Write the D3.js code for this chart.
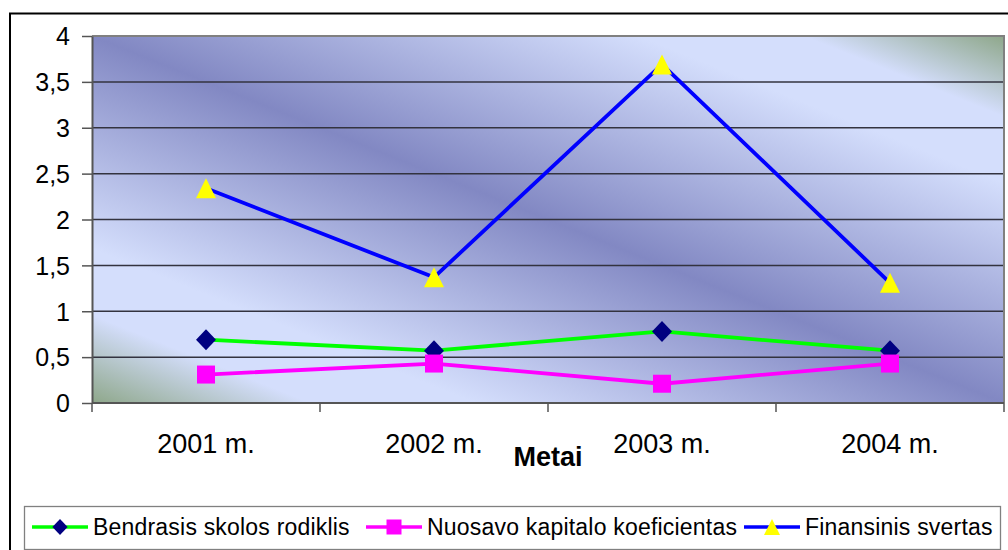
<!DOCTYPE html>
<html>
<head>
<meta charset="utf-8">
<script src="https://cdn.jsdelivr.net/npm/d3@7"></script>
<style>
  html, body { margin: 0; padding: 0; background: #fff; }
  svg { display: block; font-family: "Liberation Sans", Arial, Helvetica, sans-serif; }
</style>
</head>
<body>
<svg id="chart" width="1008" height="550"></svg>
<script>
// Years on the category axis
const years = ["2001 m.", "2002 m.", "2003 m.", "2004 m."];
// Ratio series
const bendrasis = [0.69, 0.57, 0.78, 0.57];   // Bendrasis skolos rodiklis
const nuosavo = [0.31, 0.43, 0.21, 0.43];     // Nuosavo kapitalo koeficientas
const finansinis = [2.34, 1.37, 3.69, 1.31];  // Finansinis svertas
// Value axis ticks and their labels (decimal comma)
const yTicks = [0, 0.5, 1, 1.5, 2, 2.5, 3, 3.5, 4];
const yTickLabels = ["0", "0,5", "1", "1,5", "2", "2,5", "3", "3,5", "4"];
const seriesNames = ["Bendrasis skolos rodiklis", "Nuosavo kapitalo koeficientas", "Finansinis svertas"];

const series = [
  { name: seriesNames[0], values: bendrasis, line: "#00ff00", marker: "diamond", fill: "#000080" },
  { name: seriesNames[1], values: nuosavo, line: "#ff00ff", marker: "square", fill: "#ff00ff" },
  { name: seriesNames[2], values: finansinis, line: "#0000ff", marker: "triangle", fill: "#ffff00" }
];

const svg = d3.select("#chart");
const plot = { left: 92, top: 36, right: 1004, bottom: 403 };

const x = d3.scaleBand().domain(years).range([plot.left, plot.right]).padding(0);
const y = d3.scaleLinear().domain([0, 4]).range([plot.bottom, plot.top]);

// Outer chart frame
svg.append("rect")
  .attr("x", 10).attr("y", 13.5).attr("width", 1100).attr("height", 600)
  .attr("fill", "#fff").attr("stroke", "#000").attr("stroke-width", 2);

// Diagonal gradient fill of the plot area
const defs = svg.append("defs");
const grad = defs.append("linearGradient")
  .attr("id", "plotFill")
  .attr("x1", 0).attr("y1", 1).attr("x2", 1).attr("y2", 0);
[
  [0, "#8ea78a"], [0.12, "#d4defc"], [0.21, "#d4defc"], [0.5, "#8288c3"],
  [0.8, "#d4defc"], [0.89, "#d4defc"], [1, "#8ea78a"]
].forEach(([o, c]) => grad.append("stop").attr("offset", o).attr("stop-color", c));

svg.append("rect")
  .attr("x", plot.left).attr("y", plot.top)
  .attr("width", plot.right - plot.left).attr("height", plot.bottom - plot.top)
  .attr("fill", "url(#plotFill)");

// Horizontal gridlines
svg.append("g")
  .selectAll("line")
  .data(yTicks.filter(v => v > 0 && v < 4))
  .join("line")
  .attr("x1", plot.left).attr("x2", plot.right)
  .attr("y1", d => y(d)).attr("y2", d => y(d))
  .attr("stroke", "#33333f").attr("stroke-width", 1.5);

// Plot border (top and right)
svg.append("path")
  .attr("d", `M${plot.left},${plot.top}H${plot.right}V${plot.bottom}`)
  .attr("fill", "none").attr("stroke", "#808080").attr("stroke-width", 2);

// Value axis
const yAxis = d3.axisLeft(y)
  .tickValues(yTicks)
  .tickFormat((d, i) => yTickLabels[i])
  .tickSizeInner(10).tickSizeOuter(0).tickPadding(12);
const gy = svg.append("g").attr("transform", `translate(${plot.left},0)`).call(yAxis);
gy.select(".domain").attr("stroke", "#555").attr("stroke-width", 2);
gy.selectAll(".tick line").attr("stroke", "#555").attr("stroke-width", 1.5);
gy.selectAll(".tick text")
  .attr("font-size", 25).attr("fill", "#000")
  .attr("font-family", "'Liberation Sans', Arial, sans-serif")
  .attr("dy", "0.35em");

// Category axis: ticks sit on band boundaries
const gx = svg.append("g").attr("transform", `translate(0,${plot.bottom})`);
gx.append("line")
  .attr("x1", plot.left).attr("x2", plot.right)
  .attr("stroke", "#555").attr("stroke-width", 2);
const boundaries = years.map(d => x(d)).concat([x(years[years.length - 1]) + x.bandwidth()]);
gx.selectAll("line.tick")
  .data(boundaries)
  .join("line")
  .attr("class", "tick")
  .attr("x1", d => d).attr("x2", d => d)
  .attr("y1", 0).attr("y2", 9)
  .attr("stroke", "#555").attr("stroke-width", 1.5);
gx.selectAll("text")
  .data(years)
  .join("text")
  .attr("x", d => x(d) + x.bandwidth() / 2)
  .attr("y", 50)
  .attr("text-anchor", "middle")
  .attr("font-size", 27)
  .attr("fill", "#000")
  .text(d => d);

// Axis title
svg.append("text")
  .attr("x", 548).attr("y", 466)
  .attr("text-anchor", "middle")
  .attr("font-size", 27).attr("font-weight", "bold")
  .attr("fill", "#000")
  .text("Metai");

// Marker shapes
function markerPath(type, s) {
  const h = s / 2;
  if (type === "diamond") return `M0,${-h}L${h * 0.95},0L0,${h}L${-h * 0.95},0Z`;
  if (type === "square") return `M${-h},${-h}H${h}V${h}H${-h}Z`;
  return `M0,${-h}L${h},${h}H${-h}Z`;
}
const markerSize = { diamond: 21, square: 18, triangle: 20 };

const line = d3.line()
  .x((d, i) => x(years[i]) + x.bandwidth() / 2)
  .y(d => y(d));

series.forEach(s => {
  const g = svg.append("g");
  g.append("path")
    .attr("d", line(s.values))
    .attr("fill", "none")
    .attr("stroke", s.line)
    .attr("stroke-width", 3.8)
    .attr("stroke-linejoin", "round");
  g.selectAll("path.marker")
    .data(s.values)
    .join("path")
    .attr("class", "marker")
    .attr("transform", (d, i) => `translate(${x(years[i]) + x.bandwidth() / 2},${y(d)})`)
    .attr("d", markerPath(s.marker, markerSize[s.marker]))
    .attr("fill", s.fill);
});

// Legend
const legend = svg.append("g");
legend.append("rect")
  .attr("x", 24.5).attr("y", 506.5).attr("width", 976).attr("height", 43)
  .attr("fill", "#fff").attr("stroke", "#808080").attr("stroke-width", 1.3);

const legendX = [32, 366, 744];
const legendMarkerSize = { diamond: 16, square: 15, triangle: 16 };
series.forEach((s, i) => {
  const g = legend.append("g").attr("transform", `translate(${legendX[i]},527)`);
  g.append("line")
    .attr("x1", 0).attr("x2", 56)
    .attr("stroke", s.line).attr("stroke-width", 3.5);
  g.append("path")
    .attr("transform", "translate(28,0)")
    .attr("d", markerPath(s.marker, legendMarkerSize[s.marker]))
    .attr("fill", s.fill);
  g.append("text")
    .attr("x", 61).attr("y", 0)
    .attr("dy", "0.35em")
    .attr("font-size", 23)
    .attr("letter-spacing", 0.2)
    .attr("fill", "#000")
    .text(s.name);
});
</script>
</body>
</html>
